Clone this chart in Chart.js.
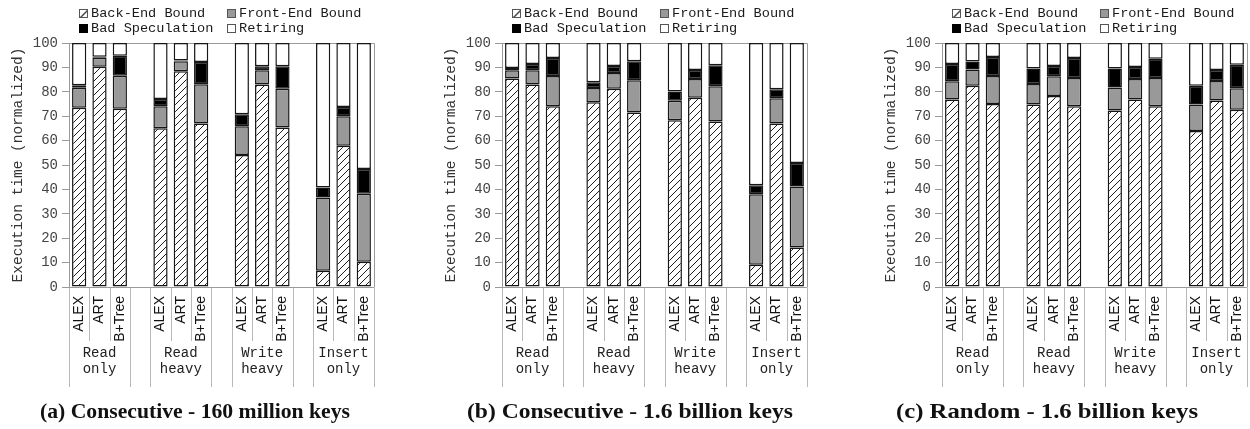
<!DOCTYPE html>
<html>
<head>
<meta charset="utf-8">
<script src="https://cdn.jsdelivr.net/npm/chart.js@4.4.1/dist/chart.umd.min.js"></script>
<style>
  html, body { margin: 0; padding: 0; background: #fff; width: 1250px; height: 429px; overflow: hidden; }
  #wrap { position: relative; width: 1250px; height: 429px; overflow: hidden; }
  canvas { position: absolute; top: 0; }
  .cap { position: absolute; top: 401px; font: bold 21px "Liberation Serif", serif; line-height: 21px;
         white-space: nowrap; color: #111; transform-origin: left center; }
</style>
</head>
<body>
<div id="wrap">
  <canvas id="panelA" width="390" height="429" style="left:0px"></canvas>
  <canvas id="panelB" width="390" height="429" style="left:433px"></canvas>
  <canvas id="panelC" width="390" height="429" style="left:873px"></canvas>
  <div class="cap" id="capA">(a) Consecutive - 160 million keys</div>
  <div class="cap" id="capB">(b) Consecutive - 1.6 billion keys</div>
  <div class="cap" id="capC">(c) Random - 1.6 billion keys</div>
</div>
<script>
// Index structures and workloads
const systems = ['ALEX', 'ART', 'B+Tree'];
const workloads = [['Read', 'only'], ['Read', 'heavy'], ['Write', 'heavy'], ['Insert', 'only']];
const seriesNames = ['Back-End Bound', 'Front-End Bound', 'Bad Speculation', 'Retiring'];

// Top-down breakdown (% of execution time), order per workload: ALEX, ART, B+Tree
// (a) Consecutive - 160 million keys
const backEndA  = [73.5, 90.3, 73.1,  65.1, 88.4, 67.0,  54.1, 83.0, 65.4,   6.7, 57.9, 10.3];
const frontEndA = [ 8.2,  3.7, 13.5,   9.0,  4.1, 16.1,  11.8,  5.8, 15.9,  30.0, 12.1, 27.9];
const badSpecA  = [ 1.0,  0.4,  8.2,   3.0,  0.3,  9.1,   4.9,  1.7,  9.2,   4.1,  3.8, 10.2];
const retiringA = [17.3,  5.6,  5.2,  22.9,  7.2,  7.8,  29.2,  9.5,  9.5,  59.2, 26.2, 51.6];

// (b) Consecutive - 1.6 billion keys
const backEndB  = [85.4, 83.0, 74.1,  75.7, 81.3, 71.5,  68.3, 77.6, 67.8,   9.1, 67.0, 16.2];
const frontEndB = [ 3.4,  5.8, 12.4,   5.9,  6.4, 13.2,   8.0,  7.6, 14.5,  28.9, 10.4, 25.0];
const badSpecB  = [ 1.0,  2.6,  7.4,   2.3,  2.9,  7.8,   3.8,  3.7,  8.6,   3.7,  3.6,  9.6];
const retiringB = [10.2,  8.6,  6.1,  16.1,  9.4,  7.5,  19.9, 11.1,  9.1,  58.3, 19.0, 49.2];

// (c) Random - 1.6 billion keys
const backEndC  = [76.8, 82.5, 75.0,  74.8, 78.3, 74.1,  72.3, 76.8, 74.1,  63.9, 76.4, 72.6];
const frontEndC = [ 7.5,  6.6, 11.5,   8.4,  8.1, 11.6,   9.5,  8.4, 11.6,  10.9,  8.0,  8.9];
const badSpecC  = [ 7.1,  3.3,  7.8,   6.4,  4.2,  8.2,   7.8,  5.0,  7.8,   7.7,  4.5,  9.6];
const retiringC = [ 8.6,  7.6,  5.7,  10.4,  9.4,  6.1,  10.4,  9.8,  6.5,  17.5, 11.1,  8.9];

const yTickValues = [0, 10, 20, 30, 40, 50, 60, 70, 80, 90, 100];

// Category slots: three bars per workload with an empty slot between workloads
const slotLabels = [];
workloads.forEach((w, i) => {
  systems.forEach(s => slotLabels.push(s));
  if (i < workloads.length - 1) slotLabels.push('');
});
function toSlots(values) {
  const out = [];
  workloads.forEach((w, i) => {
    for (let j = 0; j < systems.length; j++) out.push(values[i * systems.length + j]);
    if (i < workloads.length - 1) out.push(null);
  });
  return out;
}

// Diagonal hatch used for the back-end bound share
function makeHatch() {
  const c = document.createElement('canvas');
  const s = 7;
  c.width = s; c.height = s;
  const g = c.getContext('2d');
  g.fillStyle = '#fff';
  g.fillRect(0, 0, s, s);
  g.strokeStyle = '#1e1e1e';
  g.lineWidth = 1;
  g.beginPath();
  g.moveTo(-1, s + 1); g.lineTo(s + 1, -1);
  g.moveTo(-1, 1); g.lineTo(1, -1);
  g.moveTo(s - 1, s + 1); g.lineTo(s + 1, s - 1);
  g.stroke();
  return g.createPattern(c, 'repeat');
}
const hatch = makeHatch();
const fills = [hatch, '#999999', '#000000', '#ffffff'];

const MONO = '"Liberation Mono", "DejaVu Sans Mono", monospace';
const SANS = '"Liberation Sans", Arial, sans-serif';

// Frame, legend, workload separators and workload names
const decor = {
  id: 'decor',
  beforeDatasetsDraw(chart) {
    const { ctx, chartArea: a } = chart;
    ctx.save();
    ctx.strokeStyle = '#9a9a9a';
    ctx.lineWidth = 1;
    ctx.beginPath();
    ctx.moveTo(Math.round(a.left) + 0.5, Math.round(a.top) + 0.5);
    ctx.lineTo(Math.round(a.right) + 0.5, Math.round(a.top) + 0.5);
    ctx.lineTo(Math.round(a.right) + 0.5, Math.round(a.bottom) + 0.5);
    ctx.stroke();
    ctx.restore();
  },
  afterDraw(chart) {
    const { ctx, chartArea: a, scales } = chart;
    const x = scales.x;
    const n = slotLabels.length;
    const slot = (a.right - a.left) / n;
    ctx.save();
    // separators below the axis
    ctx.strokeStyle = '#b8b8b8';
    ctx.lineWidth = 1;
    for (let i = 0; i <= n; i++) {
      const px = Math.round(a.left + i * slot) + 0.5;
      const long = (i % 4 === 0) || (i % 4 === 3);
      ctx.beginPath();
      ctx.moveTo(px, a.bottom + 1);
      ctx.lineTo(px, long ? 387 : 341);
      ctx.stroke();
    }
    // workload names
    ctx.fillStyle = '#222';
    ctx.font = '14px ' + MONO;
    ctx.textAlign = 'center';
    ctx.textBaseline = 'middle';
    workloads.forEach((w, i) => {
      const cx = x.getPixelForTick(i * 4 + 1);
      ctx.fillText(w[0], cx, 353);
      ctx.fillText(w[1], cx, 369);
    });
    // legend, two columns by two rows
    const items = chart.data.datasets;
    const pos = [[0, 0], [1, 0], [0, 1], [1, 1]];
    ctx.font = '13.6px ' + MONO;
    ctx.textAlign = 'left';
    items.forEach((ds, k) => {
      const col = pos[k][0], row = pos[k][1];
      const bx = a.left + 10 + col * 148;
      const cy = 12.5 + row * 15.5;
      const bs = 8;
      const by = Math.round(cy - bs / 2) + 0.5;
      const bxx = Math.round(bx) + 0.5;
      ctx.fillStyle = k === 0 ? '#fff' : ds.backgroundColor;
      ctx.fillRect(bxx, by, bs, bs);
      ctx.strokeStyle = k === 2 ? '#000' : '#555';
      ctx.lineWidth = 1;
      ctx.strokeRect(bxx, by, bs, bs);
      if (k === 0) {
        ctx.beginPath();
        ctx.moveTo(bxx, by + bs);
        ctx.lineTo(bxx + bs, by);
        ctx.lineTo(bxx + bs, by + bs);
        ctx.closePath();
        ctx.fillStyle = '#444';
        ctx.fill();
        ctx.fillStyle = '#fff';
        ctx.beginPath();
        ctx.moveTo(bxx + 2, by + bs);
        ctx.lineTo(bxx + bs, by + 2);
        ctx.lineTo(bxx + bs, by + bs);
        ctx.closePath();
        ctx.fill();
        ctx.strokeRect(bxx, by, bs, bs);
      }
      ctx.fillStyle = '#1a1a1a';
      ctx.fillText(ds.label, bx + 12, cy + 0.5);
    });
    ctx.restore();
  }
};

function buildPanel(id, backEnd, frontEnd, badSpec, retiring) {
  const seriesValues = [backEnd, frontEnd, badSpec, retiring];
  const datasets = seriesNames.map((name, k) => ({
    label: name,
    data: toSlots(seriesValues[k]),
    backgroundColor: fills[k],
    borderColor: '#161616',
    borderWidth: 1.5,
    borderSkipped: false,
    barPercentage: 0.7,
    categoryPercentage: 1.0
  }));
  return new Chart(document.getElementById(id), {
    type: 'bar',
    data: { labels: slotLabels, datasets },
    options: {
      responsive: false,
      devicePixelRatio: 1,
      animation: false,
      layout: { padding: { top: 43, right: 12, bottom: 0, left: 0 } },
      plugins: { legend: { display: false }, tooltip: { enabled: false } },
      scales: {
        x: {
          stacked: true,
          grid: { display: false, drawTicks: false },
          border: { display: true, color: '#9a9a9a' },
          ticks: {
            autoSkip: false, minRotation: 90, maxRotation: 90, padding: 9,
            color: '#111', font: { family: SANS, size: 14 }
          },
          afterFit(s) { s.height = 142; }
        },
        y: {
          stacked: true,
          min: 0, max: 100,
          afterBuildTicks(s) { s.ticks = yTickValues.map(v => ({ value: v })); },
          grid: { drawOnChartArea: false, drawTicks: true, tickLength: 7, color: '#9a9a9a' },
          border: { display: true, color: '#9a9a9a' },
          ticks: { padding: 4, color: '#444', font: { family: MONO, size: 14 } },
          title: {
            display: true, text: 'Execution time (normalized)', color: '#333',
            font: { family: MONO, size: 14.5 }, padding: { top: 9.3, bottom: 0 }
          },
          afterFit(s) { s.width = 69; }
        }
      }
    },
    plugins: [decor]
  });
}

buildPanel('panelA', backEndA, frontEndA, badSpecA, retiringA);
buildPanel('panelB', backEndB, frontEndB, badSpecB, retiringB);
buildPanel('panelC', backEndC, frontEndC, badSpecC, retiringC);

// Sub-figure captions, centred under each panel
[['capA', 195, 310], ['capB', 630, 326], ['capC', 1047, 302]].forEach(([id, cx, w]) => {
  const el = document.getElementById(id);
  const nat = el.getBoundingClientRect().width;
  const k = w / nat;
  el.style.left = (cx - w / 2) + 'px';
  el.style.transform = 'scaleX(' + k + ')';
});
</script>
</body>
</html>
